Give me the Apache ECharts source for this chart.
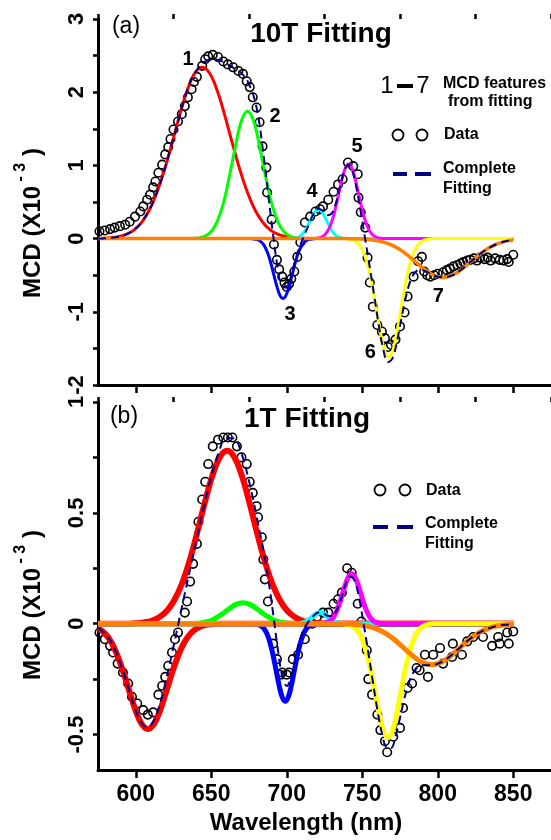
<!DOCTYPE html>
<html>
<head>
<meta charset="utf-8">
<script src="https://cdn.jsdelivr.net/npm/echarts@6/dist/echarts.min.js"></script>
<style>
html,body{margin:0;padding:0;background:#fff;}
#chart{width:551px;height:840px;}
</style>
</head>
<body>
<div id="chart"></div>
<script>
// ---- axes ----
const wavelengthMajor = [600, 650, 700, 750, 800, 850];
const wavelengthMinor = [575, 625, 675, 725, 775, 825, 875];
const ticks10T = [-2, -1.5, -1, -0.5, 0, 0.5, 1, 1.5, 2, 2.5, 3];
const labels10T = [-2, -1, 0, 1, 2, 3];
const ticks1T = [-0.5, -0.25, 0, 0.25, 0.5, 0.75, 1];
const labels1T = [-0.5, 0, 0.5, 1];

// ---- 10 T: measured MCD ----
const data10T = [[576,0.10],[579.5,0.11],[583,0.13],[586,0.15],[589.5,0.17],[593,0.19],[596,0.23],[599.5,0.30],[603,0.37],[605,0.44],[607.5,0.53],[609.5,0.60],[611.5,0.70],[613,0.78],[615,0.90],[617.5,1.01],[619.5,1.15],[621.5,1.25],[623,1.36],[625,1.49],[628,1.60],[630.5,1.70],[632.5,1.81],[634.5,1.93],[637,2.04],[638.5,2.14],[640.5,2.21],[644,2.36],[646,2.45],[648,2.49],[651,2.51],[654.5,2.48],[658,2.42],[661,2.38],[664.5,2.34],[668,2.29],[671,2.25],[673.5,2.15],[675.5,2.07],[677.5,1.93],[680,1.79],[682,1.59],[684,1.26],[686.5,0.97],[687,0.63],[690,0.26],[691.5,-0.08],[693.5,-0.29],[695,-0.42],[697,-0.52],[698.5,-0.60],[700,-0.66],[701.5,-0.62],[703,-0.55],[705,-0.45],[707,-0.25],[709,-0.05],[712,0.22],[715.5,0.30],[719,0.37],[722,0.40],[724,0.44],[727.5,0.53],[731,0.64],[734,0.74],[737,0.81],[740.5,1.04],[744,0.99],[747,0.88],[747.5,0.56],[749,0.36],[752,0.15],[753.5,-0.26],[755,-0.60],[757,-0.93],[760,-1.18],[763,-1.27],[765,-1.36],[767,-1.48],[769,-1.45],[772,-1.38],[775,-1.20],[778,-1.01],[780,-0.79],[784,-0.52],[787,-0.31],[789.5,-0.25],[791,-0.45],[793,-0.50],[795,-0.52],[797.5,-0.50],[800,-0.48],[803.5,-0.46],[806,-0.43],[808,-0.41],[810.5,-0.38],[813,-0.36],[815,-0.34],[817,-0.32],[819.5,-0.30],[821.5,-0.29],[824,-0.27],[826,-0.30],[828,-0.26],[831,-0.28],[833,-0.26],[835,-0.30],[838,-0.27],[841,-0.29],[843.5,-0.30],[846,-0.28],[847,-0.32],[850,-0.22]];

// ---- 10 T: fitted features 1-7 ----
const feat1_10T = [[575,0.003],[584,0.012],[589,0.028],[594,0.061],[599,0.12],[604,0.226],[609,0.39],[614,0.63],[619,0.94],[624,1.30],[629,1.68],[634,2.02],[639,2.256],[644,2.34],[649,2.256],[654,2.02],[659,1.68],[664,1.30],[669,0.94],[674,0.63],[679,0.39],[684,0.226],[689,0.12],[694,0.061],[699,0.028],[704,0.012],[714,0.001],[850,0]];
const feat2_10T = [[575,0],[634,0],[638,0.003],[642,0.01],[646,0.034],[650,0.098],[654,0.235],[658,0.48],[662,0.85],[666,1.26],[670,1.61],[674,1.74],[678,1.61],[682,1.26],[686,0.85],[690,0.48],[694,0.235],[698,0.098],[702,0.034],[706,0.01],[710,0.003],[714,0],[850,0]];
const feat3_10T = [[575,0],[675.5,0],[677.5,-0.003],[679.5,-0.009],[681.5,-0.023],[683.5,-0.054],[685.5,-0.111],[687.5,-0.204],[689.5,-0.337],[691.5,-0.50],[693.5,-0.657],[695.5,-0.776],[697.5,-0.82],[699.5,-0.776],[701.5,-0.657],[703.5,-0.50],[705.5,-0.337],[707.5,-0.204],[709.5,-0.111],[711.5,-0.054],[713.5,-0.023],[715.5,-0.009],[717.5,-0.003],[719.5,0],[850,0]];
const feat4_10T = [[575,0],[701,0],[703,0.002],[705,0.006],[707,0.016],[709,0.037],[711,0.077],[713,0.139],[715,0.22],[717,0.307],[719,0.374],[721,0.40],[723,0.374],[725,0.307],[727,0.22],[729,0.139],[731,0.077],[733,0.037],[735,0.016],[737,0.006],[739,0.002],[741,0],[850,0]];
const feat5_10T = [[575,0],[717,0],[719,0.003],[721,0.009],[723,0.022],[725,0.049],[727,0.10],[729,0.185],[731,0.312],[733,0.478],[735,0.666],[737,0.844],[739,0.973],[741,1.02],[743,0.973],[745,0.844],[747,0.666],[749,0.478],[751,0.312],[753,0.185],[755,0.10],[757,0.049],[759,0.022],[761,0.009],[763,0.003],[765,0],[850,0]];
const feat6_10T = [[575,0],[737.5,0],[740.5,-0.005],[743.5,-0.018],[746.5,-0.052],[749.5,-0.129],[752.5,-0.279],[755.5,-0.526],[758.5,-0.86],[761.5,-1.223],[764.5,-1.51],[767.5,-1.62],[770.5,-1.51],[773.5,-1.223],[776.5,-0.86],[779.5,-0.526],[782.5,-0.279],[785.5,-0.129],[788.5,-0.052],[791.5,-0.018],[794.5,-0.005],[797.5,0],[850,0]];
const feat7_10T = [[575,0],[738.5,0],[743.5,-0.002],[748.5,-0.005],[753.5,-0.011],[758.5,-0.023],[763.5,-0.045],[768.5,-0.08],[773.5,-0.132],[778.5,-0.202],[783.5,-0.286],[788.5,-0.375],[793.5,-0.454],[798.5,-0.51],[803.5,-0.53],[808.5,-0.51],[813.5,-0.454],[818.5,-0.375],[823.5,-0.286],[828.5,-0.202],[833.5,-0.132],[838.5,-0.08],[843.5,-0.045],[848.5,-0.023],[850,-0.019]];

// ---- 10 T: complete fit ----
const fit10T = [[575,0.002],[585,0.014],[595,0.07],[605,0.253],[615,0.685],[625,1.381],[635,2.08],[640,2.29],[645,2.40],[650,2.45],[655,2.44],[660,2.39],[665,2.33],[670,2.26],[675,2.11],[680,1.79],[685,1.08],[688,0.557],[691,0.047],[694,-0.396],[697,-0.658],[700,-0.669],[703,-0.497],[706,-0.273],[709,-0.085],[712,0.064],[715,0.209],[718,0.345],[721,0.409],[724,0.378],[727,0.32],[730,0.349],[733,0.515],[736,0.768],[739,0.971],[741,1.012],[743,0.956],[746,0.712],[749,0.361],[752,-0.013],[755,-0.392],[758,-0.789],[761,-1.189],[764,-1.518],[767,-1.688],[770,-1.637],[773,-1.405],[776,-1.086],[779,-0.787],[782,-0.573],[785,-0.461],[788,-0.427],[791,-0.439],[795,-0.478],[800,-0.52],[805,-0.528],[810,-0.497],[815,-0.432],[820,-0.348],[825,-0.26],[830,-0.179],[835,-0.115],[840,-0.068],[845,-0.037],[850,-0.019]];

// ---- 1 T: measured MCD ----
const data1T = [[576,-0.04],[579.5,-0.07],[583,-0.10],[585,-0.13],[588,-0.18],[591.5,-0.22],[595,-0.27],[597.5,-0.33],[601,-0.36],[605,-0.39],[608,-0.41],[611.5,-0.40],[615,-0.32],[617.5,-0.28],[619.5,-0.24],[621.5,-0.19],[624,-0.13],[626,-0.07],[628,-0.04],[632.5,0.05],[634,0.10],[636,0.19],[638,0.27],[640.5,0.36],[641.5,0.46],[644,0.56],[646,0.64],[648,0.72],[651,0.80],[654.5,0.83],[658,0.84],[661,0.84],[664,0.84],[667,0.80],[670,0.75],[673.5,0.72],[675.5,0.64],[677.5,0.59],[680,0.53],[681,0.48],[683.5,0.39],[684.5,0.29],[685.5,0.20],[687.5,0.10],[691,-0.09],[693.5,-0.16],[695.5,-0.23],[697,-0.22],[700,-0.23],[701.5,-0.22],[704,-0.16],[707.5,-0.14],[712,-0.07],[717,0.00],[720,0.03],[724,0.05],[727.5,0.05],[731,0.09],[734,0.11],[736.5,0.14],[740,0.25],[743,0.23],[747,0.09],[749.5,0.01],[753,-0.12],[754,-0.25],[756.5,-0.32],[760,-0.41],[762,-0.48],[765,-0.53],[766.5,-0.58],[770.5,-0.51],[775,-0.47],[777,-0.38],[780,-0.29],[783,-0.27],[786,-0.20],[788,-0.21],[791.5,-0.14],[793.5,-0.24],[797,-0.14],[801.5,-0.11],[803.5,-0.18],[809.5,-0.15],[810,-0.09],[816,-0.14],[819.5,-0.08],[823.5,-0.06],[830,-0.06],[836,-0.10],[840,-0.06],[841,-0.09],[846,-0.04],[847,-0.09],[850,-0.035]];

// ---- 1 T: fitted features ----
const feat1a_1T = [[575,-0.019],[580,-0.047],[584,-0.086],[588,-0.146],[592,-0.223],[596,-0.31],[600,-0.393],[604,-0.453],[608,-0.475],[612,-0.453],[616,-0.393],[620,-0.31],[624,-0.223],[628,-0.146],[632,-0.086],[636,-0.047],[640,-0.023],[644,-0.010],[648,-0.004],[652,-0.002],[656,0],[850,0]];
const feat1b_1T = [[575,0],[595.5,0],[600.5,0.002],[605.5,0.006],[610.5,0.013],[615.5,0.029],[620.5,0.057],[625.5,0.106],[630.5,0.179],[635.5,0.281],[640.5,0.406],[645.5,0.54],[650.5,0.662],[655.5,0.749],[660.5,0.78],[665.5,0.749],[670.5,0.662],[675.5,0.54],[680.5,0.406],[685.5,0.281],[690.5,0.179],[695.5,0.106],[700.5,0.057],[705.5,0.029],[710.5,0.013],[715.5,0.006],[720.5,0.002],[725.5,0],[850,0]];
const feat2_1T = [[575,0],[636,0],[641,0.002],[646,0.007],[651,0.018],[656,0.038],[661,0.063],[666,0.086],[671,0.095],[676,0.086],[681,0.063],[686,0.038],[691,0.018],[696,0.007],[701,0.002],[706,0],[850,0]];
const feat3_1T = [[575,0],[677,0],[679,-0.0015],[681,-0.004],[683,-0.01],[685,-0.023],[687,-0.047],[689,-0.087],[691,-0.144],[693,-0.212],[695,-0.28],[697,-0.331],[699,-0.35],[701,-0.331],[703,-0.28],[705,-0.212],[707,-0.144],[709,-0.087],[711,-0.047],[713,-0.023],[715,-0.01],[717,-0.004],[719,-0.0015],[721,0],[850,0]];
const feat4_1T = [[575,0],[707,0],[710,0.003],[713,0.01],[716,0.024],[719,0.042],[722,0.05],[725,0.042],[728,0.024],[731,0.01],[734,0.003],[737,0],[850,0]];
const feat5_1T = [[575,0],[721,0],[723,0.001],[725,0.0025],[727,0.006],[729,0.015],[731,0.03],[733,0.056],[735,0.092],[737,0.137],[739,0.18],[741,0.213],[743,0.225],[745,0.213],[747,0.18],[749,0.137],[751,0.092],[753,0.056],[755,0.03],[757,0.015],[759,0.006],[761,0.0025],[763,0.001],[765,0],[850,0]];
const feat6_1T = [[575,0],[737,0],[740,-0.003],[743,-0.0095],[746,-0.024],[749,-0.055],[752,-0.109],[755,-0.19],[758,-0.294],[761,-0.401],[764,-0.484],[767,-0.515],[770,-0.484],[773,-0.401],[776,-0.294],[779,-0.19],[782,-0.109],[785,-0.055],[788,-0.024],[791,-0.0095],[794,-0.003],[797,0],[850,0]];
const feat7_1T = [[575,0],[736,0],[741,-0.0017],[746,-0.0039],[751,-0.0081],[756,-0.0157],[761,-0.028],[766,-0.046],[771,-0.0705],[776,-0.1],[781,-0.131],[786,-0.159],[791,-0.178],[796,-0.185],[801,-0.178],[806,-0.159],[811,-0.131],[816,-0.1],[821,-0.0705],[826,-0.046],[831,-0.028],[836,-0.0157],[841,-0.0081],[846,-0.0039],[850,-0.002]];

// ---- 1 T: complete fit ----
const fit1T = [[575,-0.019],[580,-0.047],[585,-0.099],[590,-0.182],[595,-0.287],[600,-0.391],[604,-0.449],[608,-0.466],[612,-0.436],[616,-0.362],[620,-0.256],[624,-0.134],[628,-0.007],[632,0.121],[636,0.246],[640,0.372],[645,0.525],[650,0.664],[655,0.774],[660,0.838],[665,0.836],[670,0.768],[675,0.643],[680,0.485],[685,0.312],[688,0.191],[691,0.045],[694,-0.111],[697,-0.236],[700,-0.281],[703,-0.238],[706,-0.15],[709,-0.068],[712,-0.016],[715,0.015],[718,0.037],[721,0.051],[724,0.048],[727,0.036],[730,0.035],[733,0.06],[736,0.113],[739,0.177],[742,0.213],[745,0.192],[748,0.112],[751,-0.004],[754,-0.13],[757,-0.261],[760,-0.388],[763,-0.494],[766,-0.557],[769,-0.561],[772,-0.509],[775,-0.425],[778,-0.335],[781,-0.264],[784,-0.218],[787,-0.195],[790,-0.188],[795,-0.187],[800,-0.181],[805,-0.163],[810,-0.137],[815,-0.106],[820,-0.076],[825,-0.05],[830,-0.031],[835,-0.018],[840,-0.009],[845,-0.0046],[850,-0.002]];

// feature numbers placed next to their bands (10 T panel)
const featureTags10T = [[634.6,2.45,'1'],[692.3,1.67,'2'],[702.2,-1.04,'3'],[716.8,0.64,'4'],[746.6,1.26,'5'],[755.3,-1.55,'6'],[800.3,-0.79,'7']];

const FONT = '"Liberation Sans", Arial, Helvetica, sans-serif';
const BLACK = '#000';
const COLORS = {red:'#ff0000', green:'#00ff00', blue:'#0000ff', cyan:'#00ffff', magenta:'#ff00ff', yellow:'#ffff00', orange:'#ff8000', navy:'#000080'};

function majorX(grid, showLabels) {
  return {
    type: 'value', gridIndex: grid, min: 575, max: 875,
    splitLine: {show: false},
    axisLine: {show: true, onZero: false, lineStyle: {color: BLACK, width: 3}},
    axisTick: {show: true, customValues: wavelengthMajor, length: 8, lineStyle: {color: BLACK, width: 2.5}},
    axisLabel: {show: showLabels, customValues: wavelengthMajor, margin: 13, color: BLACK,
      fontSize: 23, fontWeight: 'bold', fontFamily: FONT}
  };
}
function minorX(grid) {
  return {
    type: 'value', gridIndex: grid, min: 575, max: 875,
    splitLine: {show: false},
    axisLine: {show: false, onZero: false},
    axisTick: {show: true, customValues: wavelengthMinor, length: 5, lineStyle: {color: BLACK, width: 2.5}},
    axisLabel: {show: false}
  };
}
function yAxisOf(grid, min, max, ticks, labels) {
  return {
    type: 'value', gridIndex: grid, min: min, max: max,
    splitLine: {show: false},
    axisLine: {show: true, onZero: false, lineStyle: {color: BLACK, width: 3}},
    axisTick: {show: true, customValues: ticks, length: 5, lineStyle: {color: BLACK, width: 2.5}},
    axisLabel: {customValues: labels, rotate: 90, margin: 10, color: BLACK,
      fontSize: 22, fontWeight: 'bold', fontFamily: FONT}
  };
}
function curve(data, color, width, xi, yi) {
  return {type: 'line', xAxisIndex: xi, yAxisIndex: yi, data: data, symbol: 'none', showSymbol: false,
    smooth: 0.4, silent: true, lineStyle: {color: color, width: width}};
}
function points(data, xi, yi) {
  return {type: 'scatter', xAxisIndex: xi, yAxisIndex: yi, data: data, symbol: 'circle', symbolSize: 8.5, silent: true,
    itemStyle: {color: 'rgba(0,0,0,0)', borderColor: BLACK, borderWidth: 1.6, opacity: 1}};
}
function fitLine(data, xi, yi) {
  return {type: 'line', xAxisIndex: xi, yAxisIndex: yi, data: data, symbol: 'none', showSymbol: false,
    smooth: 0.4, silent: true, lineStyle: {color: COLORS.navy, width: 2, type: [8, 5]}};
}

function txt(x, y, text, size, bold, align) {
  return {type: 'text', x: x, y: y, silent: true,
    style: {text: text, fill: BLACK, fontSize: size, fontWeight: bold ? 'bold' : 'normal', fontFamily: FONT,
      align: align || 'left', verticalAlign: 'middle'}};
}
function ring(cx, cy) {
  return {type: 'circle', silent: true, shape: {cx: cx, cy: cy, r: 5.5}, style: {fill: 'none', stroke: BLACK, lineWidth: 1.8}};
}
function dash(x1, x2, y) {
  return {type: 'line', silent: true, shape: {x1: x1, y1: y, x2: x2, y2: y}, style: {stroke: COLORS.navy, lineWidth: 4}};
}
function yTitle(cx, cy) {
  return {type: 'text', x: cx, y: cy, rotation: Math.PI / 2, silent: true,
    style: {text: '{m|MCD (X10}{s| - 3}{m| )}', align: 'center', verticalAlign: 'middle',
      rich: {
        m: {fontSize: 24, fontWeight: 'bold', fontFamily: FONT, fill: BLACK, lineHeight: 40, verticalAlign: 'middle'},
        s: {fontSize: 16, fontWeight: 'bold', fontFamily: FONT, fill: BLACK, lineHeight: 16, verticalAlign: 'top'}
      }}};
}

const chart = echarts.init(document.getElementById('chart'), null, {renderer: 'canvas'});
chart.setOption({
  animation: false,
  backgroundColor: '#fff',
  grid: [
    {left: 98, top: 19, width: 453, height: 366},
    {left: 98, top: 402, width: 453, height: 368}
  ],
  xAxis: [majorX(0, false), minorX(0), majorX(1, true), minorX(1)],
  yAxis: [
    yAxisOf(0, -2, 3, ticks10T, labels10T),
    yAxisOf(1, -0.66, 1, ticks1T, labels1T)
  ],
  series: [
    // 10 T
    curve(feat1_10T, COLORS.red, 3, 0, 0),
    curve(feat2_10T, COLORS.green, 3, 0, 0),
    curve(feat3_10T, COLORS.blue, 3, 0, 0),
    curve(feat4_10T, COLORS.cyan, 3, 0, 0),
    curve(feat5_10T, COLORS.magenta, 3, 0, 0),
    curve(feat6_10T, COLORS.yellow, 3, 0, 0),
    curve(feat7_10T, COLORS.orange, 3.5, 0, 0),
    points(data10T, 0, 0),
    fitLine(fit10T, 0, 0),
    {type: 'scatter', xAxisIndex: 0, yAxisIndex: 0, data: featureTags10T, symbolSize: 0, silent: true,
      itemStyle: {opacity: 1},
      label: {show: true, position: 'inside', formatter: p => p.data[2], color: BLACK, opacity: 1,
        textBorderWidth: 0, fontSize: 20, fontWeight: 'bold', fontFamily: FONT}},
    // 1 T
    curve(feat1a_1T, COLORS.red, 6, 2, 1),
    curve(feat1b_1T, COLORS.red, 6, 2, 1),
    curve(feat2_1T, COLORS.green, 5, 2, 1),
    curve(feat3_1T, COLORS.blue, 5, 2, 1),
    curve(feat4_1T, COLORS.cyan, 5, 2, 1),
    curve(feat5_1T, COLORS.magenta, 5, 2, 1),
    curve(feat6_1T, COLORS.yellow, 5, 2, 1),
    curve(feat7_1T, COLORS.orange, 5, 2, 1),
    points(data1T, 2, 1),
    fitLine(fit1T, 2, 1)
  ],
  graphic: [
    txt(321, 34, '10T Fitting', 28, true, 'center'),
    txt(307, 419, '1T Fitting', 28, true, 'center'),
    txt(126, 27, '(a)', 23, false, 'center'),
    txt(124, 417, '(b)', 23, false, 'center'),
    yTitle(33, 223),
    yTitle(33, 605),
    txt(306, 823, 'Wavelength (nm)', 24, true, 'center'),
    // legend, 10 T
    txt(387, 86, '1', 24, false, 'center'),
    {type: 'rect', silent: true, shape: {x: 397, y: 84, width: 16, height: 4}, style: {fill: BLACK}},
    txt(423, 86, '7', 24, false, 'center'),
    txt(443, 84, 'MCD features', 16, true),
    txt(448, 102, 'from fitting', 16, true),
    ring(398, 135), ring(422, 135),
    txt(444, 135, 'Data', 16, true),
    dash(393, 407, 174), dash(415, 431, 174),
    txt(443, 169, 'Complete', 16, true),
    txt(443, 189, 'Fitting', 16, true),
    // legend, 1 T
    ring(380, 490), ring(405, 490),
    txt(426, 491, 'Data', 16, true),
    dash(373, 388, 527), dash(397, 413, 527),
    txt(425, 524, 'Complete', 16, true),
    txt(425, 544, 'Fitting', 16, true)
  ]
});
</script>
</body>
</html>
